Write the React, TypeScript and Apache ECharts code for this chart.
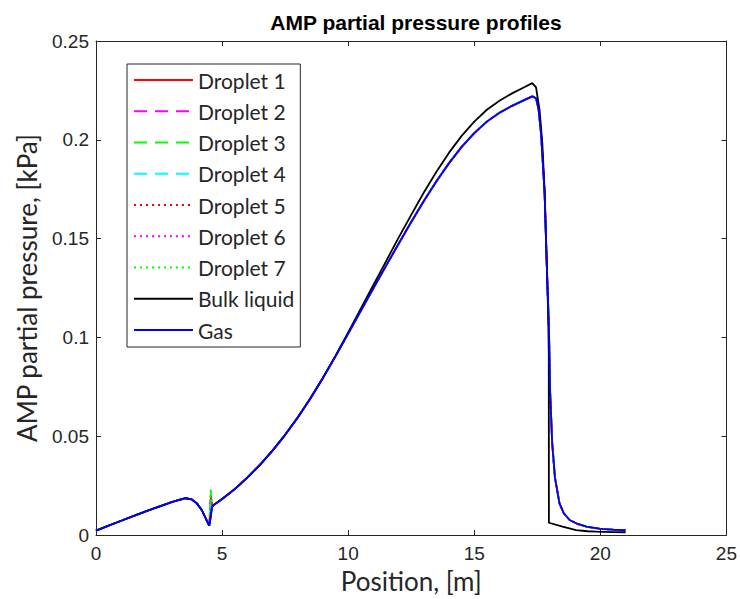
import React, { useEffect, useRef } from "react";
import * as echarts from "echarts";

const title = "AMP partial pressure profiles";
const xLabel = "Position, [m]";
const yLabel = "AMP partial pressure, [kPa]";

const xTicks = [0, 5, 10, 15, 20, 25];
const yTicks = [0, 0.05, 0.1, 0.15, 0.2, 0.25];

const gasX = [0, 0.5, 1, 1.5, 2, 2.5, 3, 3.3, 3.55, 3.8, 4.0, 4.2, 4.38, 4.49, 4.55, 4.6, 4.7, 4.85, 5.0, 5.5, 6.0, 6.5, 7.0, 7.5, 8.0, 8.5, 9.0, 9.5, 10.0, 10.5, 11.0, 11.5, 12.0, 12.5, 13.0, 13.5, 14.0, 14.5, 15.0, 15.5, 16.0, 16.5, 17.0, 17.3, 17.45, 17.55, 17.65, 17.79, 17.87, 17.96, 18.01, 18.09, 18.2, 18.38, 18.55, 18.78, 19.1, 19.45, 20.0, 20.5, 21.0];
const gasY = [0.0022, 0.0047, 0.0072, 0.0097, 0.0121, 0.0144, 0.0166, 0.0178, 0.0186, 0.018, 0.016, 0.0125, 0.0076, 0.0047, 0.009, 0.0143, 0.0155, 0.0168, 0.0182, 0.0232, 0.029, 0.0355, 0.0427, 0.0507, 0.0595, 0.0691, 0.0795, 0.0905, 0.1019, 0.1134, 0.1249, 0.1362, 0.1474, 0.1584, 0.169, 0.179, 0.1882, 0.1964, 0.2034, 0.2092, 0.2137, 0.2172, 0.2202, 0.222, 0.221, 0.2155, 0.203, 0.173, 0.139, 0.105, 0.072, 0.0465, 0.029, 0.016, 0.011, 0.0076, 0.0056, 0.0042, 0.0031, 0.0027, 0.0024];

// droplet profiles follow the gas profile except at the spike near x = 4.55
const spikeX = 4.55;
const droplet1Spike = 0.018;
const droplet2Spike = 0.02;
const droplet3Spike = 0.0225;
const droplet4Spike = 0.017;
const droplet5Spike = 0.019;
const droplet6Spike = 0.021;
const droplet7Spike = 0.023;

const bulkX = [0, 0.5, 1, 1.5, 2, 2.5, 3, 3.3, 3.55, 3.8, 4.0, 4.2, 4.38, 4.49, 4.55, 4.6, 4.7, 4.85, 5.0, 5.5, 6.0, 6.5, 7.0, 7.5, 8.0, 8.5, 9.0, 9.5, 10.0, 10.5, 11.0, 11.5, 12.0, 12.5, 13.0, 13.5, 14.0, 14.5, 15.0, 15.5, 16.0, 16.5, 17.0, 17.3, 17.45, 17.59, 17.7, 17.79, 17.87, 17.93, 17.955, 17.96, 18.5, 19.04, 19.5, 19.85, 20.5, 21.0];
const bulkY = [0.0022, 0.0047, 0.0072, 0.0097, 0.0121, 0.0144, 0.0166, 0.0178, 0.0186, 0.018, 0.016, 0.0125, 0.0076, 0.0047, 0.009, 0.0143, 0.0155, 0.0168, 0.0182, 0.0232, 0.029, 0.0355, 0.0427, 0.0507, 0.0595, 0.0691, 0.0796, 0.0908, 0.1025, 0.1145, 0.1265, 0.1385, 0.1505, 0.162, 0.1733, 0.1838, 0.1935, 0.202, 0.2092, 0.2152, 0.2198, 0.2235, 0.2267, 0.2287, 0.2265, 0.215, 0.198, 0.174, 0.14, 0.112, 0.092, 0.0062, 0.0042, 0.0025, 0.0019, 0.0017, 0.0015, 0.0014];

const seriesNames = ["Droplet 1", "Droplet 2", "Droplet 3", "Droplet 4", "Droplet 5", "Droplet 6", "Droplet 7", "Bulk liquid", "Gas"];
const seriesColors = ["#ff0000", "#ff00ff", "#00ff00", "#00ffff", "#ff0000", "#ff00ff", "#00ff00", "#000000", "#0000ff"];
const seriesDash = ["solid", [13, 8], [13, 8], [13, 8], [2, 4], [2, 4], [2, 4], "solid", "solid"];

function dropletData(spike: number) {
  return gasX.map((x, i) => [x, x === spikeX ? spike : gasY[i]]);
}

export default function App() {
  const ref = useRef<HTMLDivElement>(null);
  useEffect(() => {
    if (!ref.current) return;
    const chart = echarts.init(ref.current, null, { renderer: "svg" });
    const spikes = [droplet1Spike, droplet2Spike, droplet3Spike, droplet4Spike, droplet5Spike, droplet6Spike, droplet7Spike];
    const datas: number[][][] = [
      ...spikes.map((s) => dropletData(s)),
      bulkX.map((x, i) => [x, bulkY[i]]),
      gasX.map((x, i) => [x, gasY[i]]),
    ];
    const axisColor = "#262626";
    const tickFont = { fontFamily: "Liberation Sans, Arial, sans-serif", fontSize: 19, color: "#262626" };
    const labelFont = { fontFamily: "Lato, Open Sans, sans-serif", fontSize: 26, color: "#262626" };
    chart.setOption({
      animation: false,
      backgroundColor: "#ffffff",
      title: {
        text: title,
        left: 411,
        top: 7,
        textAlign: "center",
        textStyle: { fontFamily: "Liberation Sans, Arial, sans-serif", fontSize: 21, fontWeight: "bold", color: "#000" },
      },
      grid: { left: 96, right: 13, top: 41, bottom: 64, containLabel: false },
      legend: {
        orient: "vertical",
        left: 127,
        top: 64,
        padding: [5.5, 6, 6.5, 6],
        itemWidth: 59,
        itemHeight: 14,
        itemGap: 10.25,
        borderColor: "#262626",
        borderWidth: 1,
        backgroundColor: "#ffffff",
        itemStyle: { opacity: 0 },
        data: seriesNames.map((n) => ({ name: n })),
        textStyle: { fontFamily: "Lato, Open Sans, sans-serif", fontSize: 21, lineHeight: 21, color: "#262626" },
      },
      xAxis: [
        {
          type: "value",
          position: "bottom",
          min: 0,
          max: 25,
          interval: 5,
          name: xLabel,
          nameLocation: "middle",
          nameGap: 33,
          nameTextStyle: labelFont,
          axisLine: { show: true, lineStyle: { color: axisColor, width: 1 } },
          axisTick: { show: true, inside: true, length: 5, lineStyle: { color: axisColor } },
          axisLabel: { ...tickFont, margin: 9 },
          splitLine: { show: false },
        },
        {
          type: "value",
          position: "top",
          min: 0,
          max: 25,
          interval: 5,
          axisLine: { show: true, onZero: false, lineStyle: { color: axisColor, width: 1 } },
          axisTick: { show: true, inside: true, length: 5, lineStyle: { color: axisColor } },
          axisLabel: { show: false },
          splitLine: { show: false },
        },
      ],
      yAxis: [
        {
          type: "value",
          position: "left",
          min: 0,
          max: 0.25,
          interval: 0.05,
          name: yLabel,
          nameLocation: "middle",
          nameGap: 56,
          nameTextStyle: labelFont,
          axisLine: { show: true, lineStyle: { color: axisColor, width: 1 } },
          axisTick: { show: true, inside: true, length: 5, lineStyle: { color: axisColor } },
          axisLabel: { ...tickFont, margin: 7, formatter: (v: number) => String(Math.round(v * 100) / 100) },
          splitLine: { show: false },
        },
        {
          type: "value",
          position: "right",
          min: 0,
          max: 0.25,
          interval: 0.05,
          axisLine: { show: true, onZero: false, lineStyle: { color: axisColor, width: 1 } },
          axisTick: { show: true, inside: true, length: 5, lineStyle: { color: axisColor } },
          axisLabel: { show: false },
          splitLine: { show: false },
        },
      ],
      series: seriesNames.map((name, i) => ({
        name,
        type: "line",
        xAxisIndex: 0,
        yAxisIndex: 0,
        data: datas[i],
        symbol: "none",
        smooth: false,
        color: seriesColors[i],
        lineStyle: { color: seriesColors[i], width: 1.8, type: seriesDash[i] },
        z: 2 + i,
      })),
    });
    return () => chart.dispose();
  }, []);
  return <div ref={ref} style={{ width: 740, height: 599, position: "absolute", left: 0, top: 0 }} />;
}
